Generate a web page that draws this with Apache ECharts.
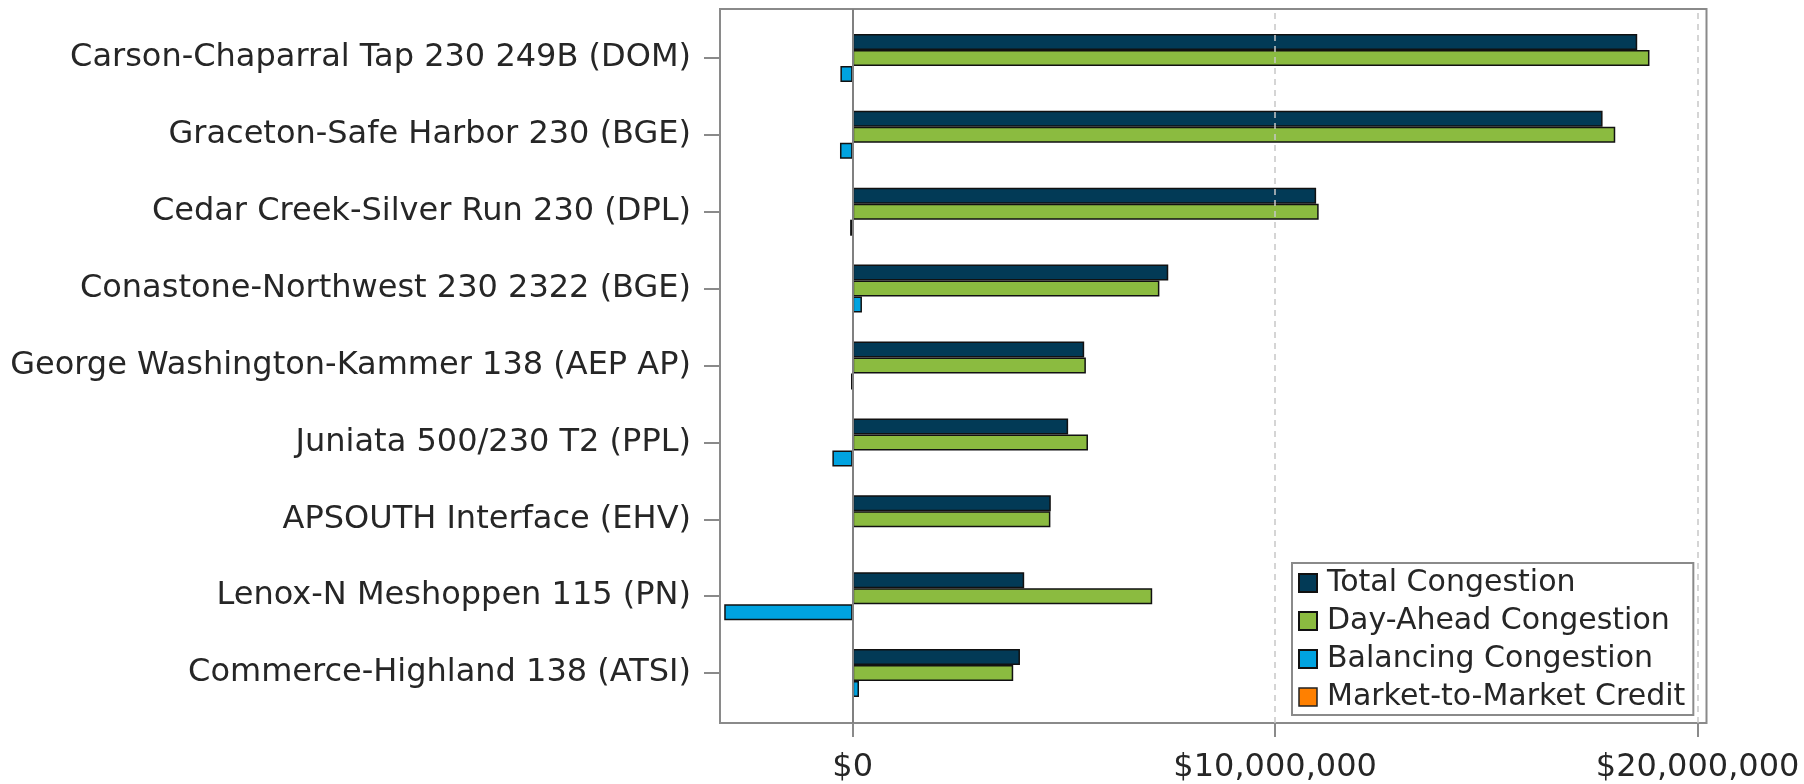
<!DOCTYPE html>
<html><head><meta charset="utf-8">
<script src="https://cdn.jsdelivr.net/npm/echarts@6/dist/echarts.min.js"></script>
<style>html,body{margin:0;padding:0;background:#fff}#c{width:1804px;height:784px}</style>
</head><body><div id="c"></div>
<script>
const categories = [
  'Carson-Chaparral Tap 230 249B (DOM)',
  'Graceton-Safe Harbor 230 (BGE)',
  'Cedar Creek-Silver Run 230 (DPL)',
  'Conastone-Northwest 230 2322 (BGE)',
  'George Washington-Kammer 138 (AEP AP)',
  'Juniata 500/230 T2 (PPL)',
  'APSOUTH Interface (EHV)',
  'Lenox-N Meshoppen 115 (PN)',
  'Commerce-Highland 138 (ATSI)'
];
const totalCongestion     = [18570000, 17750000, 10970000, 7470000, 5480000, 5100000, 4690000, 4060000, 3960000];
const dayAheadCongestion  = [18860000, 18050000, 11030000, 7260000, 5520000, 5570000, 4680000, 7090000, 3800000];
const balancingCongestion = [-290000, -300000, -60000, 220000, -40000, -480000, 10000, -3040000, 150000];
const marketToMarketCredit = [0, 0, 0, 0, 0, 0, 0, 0, 0];
const seriesNames = ['Total Congestion', 'Day-Ahead Congestion', 'Balancing Congestion', 'Market-to-Market Credit'];
const seriesColors = ['#023a56', '#8bbb40', '#00a3e0', '#ff8000'];
const xTickValues = [0, 10000000, 20000000];
const xMin = -3140000, xMax = 20210000;

const FONT = 'DejaVu Sans';
const TXT = '#262626';
const GRAY = '#8a8a8a';

const chart = echarts.init(document.getElementById('c'), null, {renderer: 'canvas'});
const barBase = {
  type: 'bar', xAxisIndex: 1, yAxisIndex: 1, barWidth: 16, barGap: '0%',
  animation: false, silent: true
};
const option = {
  animation: false,
  backgroundColor: '#fff',
  textStyle: {fontFamily: FONT},
  grid: [
    {left: 720, right: 97.5, top: 9, bottom: 60, show: true, borderColor: GRAY, borderWidth: 2, backgroundColor: 'transparent', containLabel: false},
    {left: 720, right: 97.5, top: 19.5, bottom: 72.5, containLabel: false}
  ],
  xAxis: [
    {type: 'value', gridIndex: 0, min: xMin, max: xMax,
     axisLine: {show: false},
     axisTick: {show: true, customValues: xTickValues, length: 14, lineStyle: {color: GRAY, width: 2}},
     axisLabel: {show: true, customValues: xTickValues, margin: 29, fontFamily: FONT, fontSize: 32, color: TXT,
       formatter: v => '$' + Math.round(v).toLocaleString('en-US')},
     splitLine: {show: false}},
    {type: 'value', gridIndex: 1, min: xMin, max: xMax, show: false}
  ],
  yAxis: [
    {type: 'value', gridIndex: 0, min: 0, max: 1, show: false},
    {type: 'category', gridIndex: 1, data: categories, inverse: true, position: 'left',
     axisLine: {show: false, onZero: false},
     axisTick: {show: true, alignWithLabel: true, length: 16, lineStyle: {color: GRAY, width: 2}},
     axisLabel: {fontFamily: FONT, fontSize: 32, color: TXT, margin: 29, padding: [6, 0, 0, 0]},
     splitLine: {show: false}}
  ],
  legend: {
    orient: 'vertical', left: 1292, top: 563,
    itemWidth: 18, itemHeight: 18, itemGap: 8,
    padding: [5, 8, 3, 6],
    borderColor: GRAY, borderWidth: 2, backgroundColor: '#fff',
    icon: 'rect', selectedMode: false,
    textStyle: {fontFamily: FONT, fontSize: 30, color: TXT, lineHeight: 30, padding: [0, 0, 0, 5]},
    data: [
      {name: seriesNames[0]},
      {name: seriesNames[1]},
      {name: seriesNames[2]},
      {name: seriesNames[3], itemStyle: {color: seriesColors[3], borderColor: '#222', borderWidth: 1.5}}
    ]
  },
  series: [
    Object.assign({}, barBase, {name: seriesNames[0], data: totalCongestion,
      itemStyle: {color: seriesColors[0], borderColor: '#111', borderWidth: 1.5}}),
    Object.assign({}, barBase, {name: seriesNames[1], data: dayAheadCongestion,
      itemStyle: {color: seriesColors[1], borderColor: '#111', borderWidth: 1.5}}),
    Object.assign({}, barBase, {name: seriesNames[2], data: balancingCongestion, stack: 'bal',
      itemStyle: {color: seriesColors[2], borderColor: '#111', borderWidth: 1.5}}),
    Object.assign({}, barBase, {name: seriesNames[3], data: marketToMarketCredit, stack: 'bal',
      itemStyle: {color: seriesColors[3], borderColor: '#222', borderWidth: 0}}),
    {type: 'line', xAxisIndex: 0, yAxisIndex: 0, data: [], silent: true, animation: false,
     markLine: {silent: true, symbol: ['none', 'none'], animation: false, label: {show: false},
       data: [
         {xAxis: xTickValues[1], lineStyle: {color: '#c8c8c8', width: 1.5, type: [6, 5]}},
         {xAxis: xTickValues[2], lineStyle: {color: '#c8c8c8', width: 1.5, type: [6, 5]}},
         {xAxis: xTickValues[0], lineStyle: {color: '#808080', width: 2, type: 'solid'}}
       ]}}
  ]
};
chart.setOption(option);
</script>
</body></html>
